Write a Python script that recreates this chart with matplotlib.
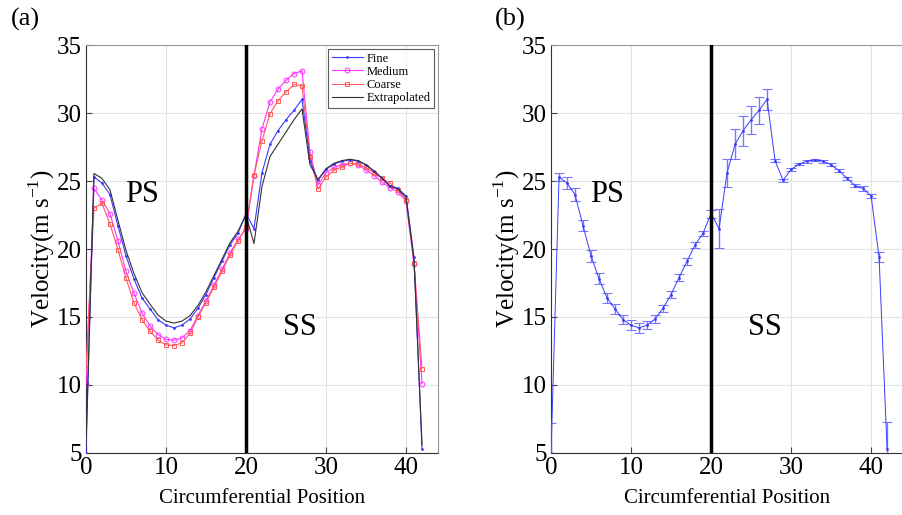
import matplotlib
matplotlib.use("Agg")
import matplotlib.pyplot as plt
import numpy as np

plt.rcParams['font.family'] = ['Liberation Serif', 'DejaVu Serif']
plt.rcParams['mathtext.fontset'] = 'custom'
plt.rcParams['mathtext.rm'] = 'Liberation Serif'

position = list(range(43))

fine = [5.0, 25.3, 24.85, 24.0, 21.7, 19.5, 17.8, 16.4, 15.6, 14.8, 14.4,
        14.2, 14.4, 14.85, 15.65, 16.65, 17.9, 19.1, 20.3, 21.15, 22.6,
        21.5, 25.6, 27.7, 28.7, 29.5, 30.2, 31.0, 26.5, 25.05, 25.85,
        26.25, 26.45, 26.55, 26.45, 26.2, 25.75, 25.2, 24.65, 24.45, 23.9,
        19.4, 5.3]

medium = [10.1, 24.45, 23.6, 22.6, 20.6, 18.35, 16.75, 15.3, 14.35, 13.7, 13.35,
          13.3, 13.45, 14.0, 15.1, 16.2, 17.35, 18.5, 19.7, 20.7, 21.5,
          25.4, 28.85, 30.8, 31.75, 32.4, 32.9, 33.1, 27.1, 24.7, 25.6,
          26.0, 26.2, 26.3, 26.2, 25.8, 25.4, 24.9, 24.5, 24.2, 23.5,
          18.9, 10.1]

coarse = [11.2, 23.0, 23.35, 21.85, 19.95, 17.85, 16.05, 14.8, 13.95, 13.3, 12.95,
          12.9, 13.1, 13.8, 15.0, 16.05, 17.2, 18.35, 19.55, 20.6, 21.6,
          25.45, 27.95, 29.95, 30.9, 31.55, 32.1, 32.0, 26.8, 24.4, 25.3,
          25.8, 26.05, 26.3, 26.25, 26.0, 25.6, 25.2, 24.85, 24.35, 23.6,
          18.95, 11.2]

extrapolated = [5.5, 25.55, 25.2, 24.35, 22.1, 19.9, 18.2, 16.8, 15.95, 15.15, 14.7,
                14.55, 14.7, 15.1, 15.85, 16.85, 18.05, 19.25, 20.45, 21.3, 22.5,
                20.4, 24.6, 26.8, 27.7, 28.6, 29.5, 30.3, 26.2, 25.1, 25.9,
                26.3, 26.5, 26.6, 26.5, 26.2, 25.7, 25.2, 24.6, 24.4, 23.8,
                19.2, 5.6]

fine_err = [2.2, 0.3, 0.45, 0.5, 0.4, 0.45, 0.4, 0.4, 0.35, 0.35, 0.35,
            0.35, 0.3, 0.3, 0.25, 0.25, 0.25, 0.25, 0.25, 0.2, 0.3,
            1.45, 1.05, 1.1, 1.1, 1.05, 1.0, 0.8, 0.1, 0.1, 0.1,
            0.1, 0.1, 0.1, 0.1, 0.1, 0.1, 0.1, 0.1, 0.15, 0.15,
            0.35, 2.0]

x_ticks = [0, 10, 20, 30, 40]
y_ticks = [5, 10, 15, 20, 25, 30, 35]

fig = plt.figure(figsize=(9.02, 5.15), dpi=100)
axA = fig.add_axes([0.0953, 0.1204, 0.3903, 0.7922])
axB = fig.add_axes([0.6109, 0.1204, 0.3903, 0.7922])

c_fine = '#3a3aff'
c_med = '#ff33ff'
c_coarse = '#ff5a5a'
c_ext = '#333333'

for ax in (axA, axB):
    ax.set_xlim(0, 44)
    ax.set_ylim(5, 35)
    ax.set_xticks(x_ticks)
    ax.set_yticks(y_ticks)
    ax.grid(True, color='#e3e3e3', linewidth=0.8)
    ax.set_axisbelow(True)
    ax.tick_params(direction='in', labelsize=18, length=4, color='#444444', pad=3)
    for s in ('top', 'right'):
        ax.spines[s].set_color('#999999')
    for s in ('left', 'bottom'):
        ax.spines[s].set_color('#333333')
    ax.axvline(20, color='black', linewidth=2.5, zorder=5)
    ax.set_xlabel('Circumferential Position', fontsize=15, labelpad=7)
    ax.set_ylabel('Velocity(m s$^{-1}$)', fontsize=18, labelpad=0)
    ax.text(7.0, 24.0, 'PS', fontsize=22, ha='center', va='center')
    ax.text(26.7, 14.2, 'SS', fontsize=22, ha='center', va='center')

axA.plot(position, fine, color=c_fine, linewidth=0.8, marker='.', markersize=2, label='Fine', zorder=4)
axA.plot(position, medium, color=c_med, linewidth=0.8, marker='o', markersize=3.5,
         markerfacecolor='none', markeredgewidth=0.7, label='Medium', zorder=3)
axA.plot(position, coarse, color=c_coarse, linewidth=0.8, marker='s', markersize=3,
         markerfacecolor='none', markeredgewidth=0.7, label='Coarse', zorder=3)
axA.plot(position, extrapolated, color=c_ext, linewidth=0.8, label='Extrapolated', zorder=4)
leg = axA.legend(loc='upper right', fontsize=9, frameon=True, fancybox=False,
                 edgecolor='#333333', borderpad=0.3, labelspacing=0.1,
                 handlelength=2.5, handletextpad=0.3, borderaxespad=0.3)
leg.get_frame().set_linewidth(0.8)

axB.errorbar(position, fine, yerr=fine_err, color=c_fine, linewidth=0.7,
             marker='.', markersize=2, ecolor='#7777ff', elinewidth=1.0,
             capsize=3.5, capthick=0.8, zorder=4)

fig.text(0.012, 0.962, '(a)', fontsize=19, ha='left', va='center')
fig.text(0.549, 0.962, '(b)', fontsize=19, ha='left', va='center')

fig.savefig('out.png', dpi=100)
